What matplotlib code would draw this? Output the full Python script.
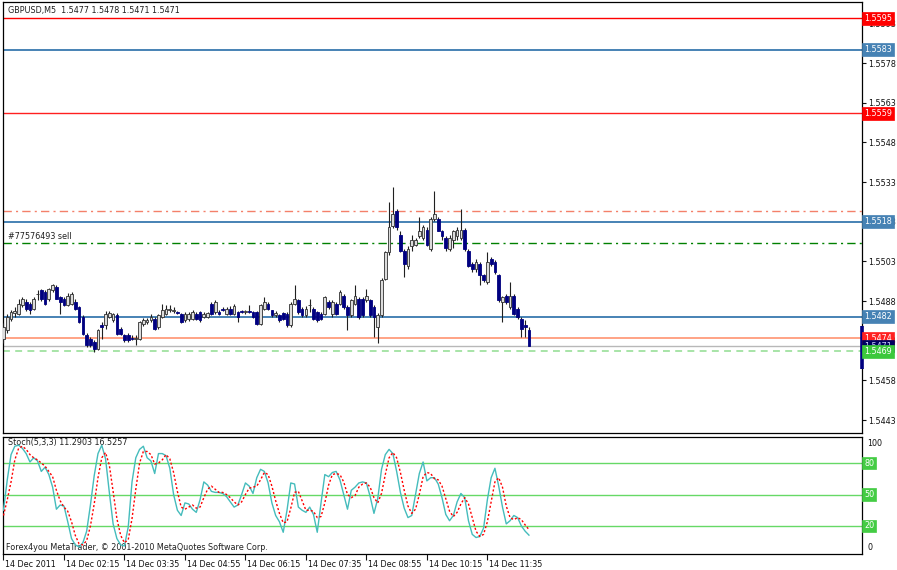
import matplotlib
matplotlib.use("Agg")
import matplotlib.pyplot as plt
import matplotlib.transforms as mtransforms
import numpy as np

# ---------------- data ----------------
opens = [1.54738,1.54769,1.54814,1.54836,1.54832,1.54866,1.54876,1.54870,1.54851,1.54906,
         1.54920,1.54914,1.54889,1.54920,1.54933,1.54895,1.54889,1.54866,1.54870,1.54876,
         1.54857,1.54820,1.54751,1.54738,1.54724,1.54700,1.54788,1.54788,1.54820,1.54807,
         1.54826,1.54776,1.54751,1.54751,1.54741,1.54738,1.54738,1.54794,1.54801,1.54807,
         1.54814,1.54782,1.54820,1.54832,1.54846,1.54841,1.54838,1.54832,1.54807,1.54814,
         1.54814,1.54832,1.54838,1.54820,1.54820,1.54870,1.54838,1.54838,1.54848,1.54832,
         1.54851,1.54832,1.54838,1.54841,1.54838,1.54841,1.54838,1.54838,1.54794,1.54851,
         1.54870,1.54845,1.54828,1.54826,1.54835,1.54832,1.54788,1.54870,1.54883,1.54851,
         1.54826,1.54864,1.54851,1.54838,1.54832,1.54832,1.54876,1.54832,1.54870,1.54870,
         1.54901,1.54857,1.54826,1.54870,1.54889,1.54889,1.54883,1.54883,1.54857,1.54782,
         1.54826,1.54964,1.55065,1.55164,1.55222,1.55131,1.55071,1.55014,1.55087,1.55093,
         1.55125,1.55118,1.55150,1.55077,1.55191,1.55191,1.55146,1.55118,1.55077,1.55112,
         1.55125,1.55118,1.55150,1.55071,1.55021,1.55002,1.55021,1.54977,1.54952,1.55040,
         1.55028,1.54977,1.54876,1.54901,1.54857,1.54901,1.54851,1.54814,1.54788,1.5477]
closes = [1.54782,1.54820,1.54838,1.54841,1.54870,1.54886,1.54851,1.54845,1.54889,1.54908,
          1.54889,1.54870,1.54927,1.54939,1.54889,1.54876,1.54866,1.54901,1.54908,1.54851,
          1.54801,1.54757,1.54713,1.54713,1.54700,1.54769,1.54781,1.54832,1.54834,1.54832,
          1.54757,1.54757,1.54732,1.54732,1.54738,1.54741,1.54801,1.54807,1.54807,1.54820,
          1.54776,1.54826,1.54845,1.54851,1.54851,1.54845,1.54836,1.54801,1.54832,1.54832,
          1.54838,1.54814,1.54807,1.54832,1.54835,1.54832,1.54876,1.54832,1.54846,1.54851,
          1.54832,1.54860,1.54820,1.54838,1.54841,1.54838,1.54820,1.54794,1.54864,1.54876,
          1.54851,1.54826,1.54834,1.54807,1.54814,1.54788,1.54870,1.54889,1.54838,1.54826,
          1.54851,1.54866,1.54814,1.54807,1.54814,1.54895,1.54857,1.54876,1.54832,1.54914,
          1.54857,1.54826,1.54883,1.54901,1.54820,1.54826,1.54901,1.54826,1.54820,1.54826,
          1.54958,1.55065,1.55159,1.55209,1.55159,1.55071,1.55021,1.55077,1.55112,1.55112,
          1.55144,1.55159,1.55093,1.55191,1.55209,1.55146,1.55125,1.55081,1.55118,1.55144,
          1.55150,1.55150,1.55077,1.55014,1.55002,1.55028,1.54977,1.54958,1.55028,1.55021,
          1.54990,1.54883,1.54895,1.54876,1.54901,1.54832,1.54820,1.54776,1.54782,1.5471]
highs = [1.54796,1.54831,1.54846,1.54856,1.54889,1.54896,1.54886,1.54876,1.54896,1.54920,
         1.54926,1.54921,1.54931,1.54943,1.54939,1.54901,1.54896,1.54911,1.54916,1.54886,
         1.54861,1.54826,1.54761,1.54744,1.54731,1.54776,1.54801,1.54841,1.54841,1.54836,
         1.54834,1.54781,1.54756,1.54761,1.54751,1.54751,1.54806,1.54816,1.54816,1.54831,
         1.54820,1.54832,1.54870,1.54866,1.54864,1.54856,1.54844,1.54836,1.54838,1.54838,
         1.54846,1.54838,1.54841,1.54838,1.54838,1.54876,1.54883,1.54848,1.54856,1.54857,
         1.54860,1.54870,1.54842,1.54846,1.54848,1.54864,1.54842,1.54842,1.54870,1.54895,
         1.54876,1.54848,1.54841,1.54832,1.54838,1.54838,1.54876,1.54939,1.54889,1.54856,
         1.54860,1.54889,1.54857,1.54842,1.54838,1.54901,1.54883,1.54883,1.54876,1.54920,
         1.54908,1.54864,1.54889,1.54939,1.54896,1.54896,1.54926,1.54889,1.54864,1.54836,
         1.54966,1.55071,1.55253,1.55313,1.55228,1.55144,1.55077,1.55087,1.55131,1.55118,
         1.55197,1.55166,1.55159,1.55197,1.55298,1.55197,1.55150,1.55125,1.55131,1.55150,
         1.55159,1.55228,1.55156,1.55077,1.55028,1.55040,1.55028,1.54983,1.55065,1.55046,
         1.55034,1.54983,1.54901,1.54908,1.54952,1.54908,1.54857,1.54820,1.54807,1.5478]
lows = [1.54721,1.54761,1.54806,1.54821,1.54826,1.54856,1.54841,1.54831,1.54846,1.54883,
        1.54881,1.54866,1.54881,1.54916,1.54886,1.54832,1.54861,1.54861,1.54866,1.54846,
        1.54796,1.54751,1.54708,1.54706,1.54688,1.54696,1.54736,1.54776,1.54816,1.54801,
        1.54751,1.54751,1.54726,1.54726,1.54732,1.54713,1.54732,1.54786,1.54794,1.54801,
        1.54769,1.54776,1.54816,1.54826,1.54838,1.54836,1.54832,1.54796,1.54801,1.54806,
        1.54807,1.54807,1.54801,1.54816,1.54816,1.54826,1.54832,1.54829,1.54841,1.54829,
        1.54829,1.54829,1.54801,1.54835,1.54832,1.54835,1.54816,1.54788,1.54788,1.54846,
        1.54846,1.54820,1.54820,1.54801,1.54807,1.54782,1.54782,1.54864,1.54832,1.54820,
        1.54820,1.54838,1.54807,1.54801,1.54807,1.54826,1.54851,1.54820,1.54826,1.54864,
        1.54851,1.54769,1.54820,1.54864,1.54814,1.54820,1.54876,1.54820,1.54744,1.54723,
        1.54820,1.54958,1.55056,1.55156,1.55150,1.55065,1.54970,1.55002,1.55071,1.55087,
        1.55118,1.55112,1.55087,1.55071,1.55184,1.55144,1.55112,1.55071,1.55071,1.55081,
        1.55112,1.55112,1.55071,1.55008,1.54990,1.54990,1.54939,1.54952,1.54946,1.55014,
        1.54983,1.54876,1.54801,1.54870,1.54851,1.54826,1.54814,1.54744,1.54744,1.5471]

stoch_k = [35,64,88,96,97,94,89,81,85,82,72,76,69,57,36,40,39,24,8,2,
           0,4,15,40,68,89,97,84,52,22,8,2,1,19,62,85,93,96,85,82,
           70,89,89,87,75,50,35,30,42,41,36,33,45,62,59,53,52,52,51,48,
           43,38,40,50,61,58,51,66,74,72,61,42,30,24,14,35,61,60,38,35,
           33,38,31,14,42,69,67,71,72,64,50,36,54,57,61,62,61,48,32,46,
           74,88,93,89,72,52,37,28,30,50,70,81,63,66,66,60,47,31,25,30,
           43,51,47,25,12,9,10,18,45,66,75,58,38,22,25,30,28,20,15,11.2903]
stoch_d = [30,45,62,83,94,96,93,88,85,83,80,77,72,67,54,44,38,34,24,11,
           3,2,6,20,41,66,85,90,78,53,27,11,4,7,27,55,80,91,91,88,
           79,80,83,88,84,71,53,38,36,38,40,37,38,47,55,58,55,52,52,50,
           47,43,40,43,50,56,57,58,64,71,69,58,44,32,23,24,37,52,53,44,
           35,35,34,28,29,42,59,69,70,69,62,50,47,49,57,60,61,57,47,42,
           51,69,85,90,85,71,54,39,32,36,50,67,71,70,65,64,58,46,34,29,
           33,41,47,41,28,15,10,12,24,43,62,66,57,39,28,26,28,26,21,16.5257]

time_labels = ["14 Dec 2011", "14 Dec 02:15", "14 Dec 03:35", "14 Dec 04:55",
               "14 Dec 06:15", "14 Dec 07:35", "14 Dec 08:55", "14 Dec 10:15",
               "14 Dec 11:35"]
label_every = 16

price_ticks = [1.5593, 1.5578, 1.5563, 1.5548, 1.5533, 1.5518, 1.5503, 1.5488,
               1.5473, 1.5458, 1.5443]
stoch_levels = [80, 50, 20]

level_upper_red = 1.5595
level_upper_blue = 1.5583
level_mid_red = 1.5559
level_dashdot_red = 1.5522
level_mid_blue = 1.5518
level_sell = 1.5510
level_low_blue = 1.5482
level_low_red = 1.5474
level_bid = 1.5471
level_green = 1.5469
range_marker = (1.54786, 1.54623)

title_text = "GBPUSD,M5  1.5477 1.5478 1.5471 1.5471"
sell_text = "#77576493 sell"
stoch_text = "Stoch(5,3,3) 11.2903 16.5257"
copyright_text = "Forex4you MetaTrader, \u00a9 2001-2010 MetaQuotes Software Corp."

# ---------------- layout ----------------
W, H = 897, 570
FS = 5.8
plt.rcParams['font.family'] = ['DejaVu Sans']

fig = plt.figure(figsize=(W / 100, H / 100), dpi=100)
fig.patch.set_facecolor('white')


def frac(x0, y0, x1, y1):
    return [x0 / W, 1 - y1 / H, (x1 - x0) / W, (y1 - y0) / H]


ax = fig.add_axes(frac(2.5, 2, 862, 433))
ax2 = fig.add_axes(frac(2.5, 437, 862, 554), sharex=ax)

n = len(opens)
idx = np.arange(n)
o = np.array(opens); c = np.array(closes); hi = np.array(highs); lo = np.array(lows)

# wicks
ax.vlines(idx, lo, hi, color='#202020', lw=0.8, zorder=3)
# bodies
bull = c >= o
bottoms = np.minimum(o, c)
heights = np.maximum(np.abs(c - o), 0.000025)
ax.bar(idx[bull], heights[bull], bottom=bottoms[bull], width=0.72,
       color='#dcdcdc', edgecolor='#303030', linewidth=0.6, zorder=4)
ax.bar(idx[~bull], heights[~bull], bottom=bottoms[~bull], width=0.72,
       color='#000080', edgecolor='#000080', linewidth=0.6, zorder=4)

# horizontal levels
ax.axhline(level_upper_red, color='#ff0000', lw=1.0, zorder=2)
ax.axhline(level_upper_blue, color='#4682b4', lw=1.4, zorder=2)
ax.axhline(level_mid_red, color='#ff2020', lw=1.0, zorder=2)
ax.axhline(level_dashdot_red, color='#f4806a', lw=1.0, zorder=2,
           linestyle=(0, (6, 3, 1.5, 3)))
ax.axhline(level_mid_blue, color='#4682b4', lw=1.4, zorder=2)
ax.axhline(level_sell, color='#008000', lw=1.0, zorder=2,
           linestyle=(0, (6, 3, 1.5, 3)))
ax.axhline(level_low_blue, color='#4682b4', lw=1.4, zorder=2)
ax.axhline(level_low_red, color='#ff8a65', lw=1.1, zorder=2)
ax.axhline(level_bid, color='#b8b8b8', lw=1.0, zorder=2)
ax.axhline(level_green, color='#8fdc8f', lw=1.1, zorder=2,
           linestyle=(0, (4.5, 3.5)))

ax.set_xlim(-0.26, 227.1)
ax.set_ylim(1.54381, 1.56011)

ax.yaxis.tick_right()
ax.set_yticks(price_ticks)
ax.set_yticklabels([f"{v:.4f}" for v in price_ticks])
ax.tick_params(axis='y', labelsize=FS, length=3, width=0.8, pad=1.5, colors='#111111')
ax.tick_params(axis='x', bottom=False, labelbottom=False)
for s in ax.spines.values():
    s.set_color('#000000'); s.set_linewidth(0.9)

# right-hand price boxes
ytrans = mtransforms.blended_transform_factory(ax.transAxes, ax.transData)


def price_box(a, trans, y, text, fc, tc='white'):
    a.annotate(text, xy=(1.0, y), xycoords=trans, xytext=(1.6, 0),
               textcoords='offset points', ha='left', va='center',
               fontsize=FS, color=tc, zorder=10, annotation_clip=False,
               bbox=dict(boxstyle='square,pad=0.24', fc=fc, ec=fc, lw=0.5))


price_box(ax, ytrans, level_upper_red, f"{level_upper_red:.4f}", '#ff0000')
price_box(ax, ytrans, level_upper_blue, f"{level_upper_blue:.4f}", '#4682b4')
price_box(ax, ytrans, level_mid_red, f"{level_mid_red:.4f}", '#ff0000')
price_box(ax, ytrans, level_mid_blue, f"{level_mid_blue:.4f}", '#4682b4')
price_box(ax, ytrans, level_low_blue, f"{level_low_blue:.4f}", '#4682b4')
price_box(ax, ytrans, level_low_red, f"{level_low_red:.4f}", '#ff2020')
price_box(ax, ytrans, level_bid, f"{level_bid:.4f}", '#000060', '#d0d0ff')
price_box(ax, ytrans, level_green, f"{level_green:.4f}", '#3cc83c')

ax.plot([1.0, 1.0], list(range_marker), transform=ytrans, color='#000080',
        lw=2.6, clip_on=False, zorder=9, solid_capstyle='butt')

ax.text(5 / 859.5, 1 - 8 / 431, title_text, transform=ax.transAxes,
        fontsize=FS, ha='left', va='center', color='#202020')
ax.annotate(sell_text, xy=(0, level_sell), xycoords=ytrans, xytext=(4, 1.5),
            textcoords='offset points', fontsize=FS, ha='left', va='bottom',
            color='#202020')

# ---------------- stochastic ----------------
for lv in stoch_levels:
    ax2.axhline(lv, color='#66d966', lw=1.0, zorder=2)
ax2.plot(idx, stoch_k, color='#45bcbc', lw=1.0, zorder=4)
ax2.plot(idx, stoch_d, color='#ff0000', lw=1.0, zorder=5, linestyle=(0, (1.5, 1.5)))
ax2.set_ylim(-6.7, 104.8)
ax2.yaxis.tick_right()
ax2.set_yticks([0, 100])
ax2.set_yticklabels(["0", "100"])
ax2.tick_params(axis='y', labelsize=FS, length=0, pad=4, colors='#111111')
ytrans2 = mtransforms.blended_transform_factory(ax2.transAxes, ax2.transData)
for lv in stoch_levels:
    price_box(ax2, ytrans2, lv, str(lv), '#44cc44')

ax2.set_xticks(idx[::label_every][:len(time_labels)])
ax2.set_xticklabels(time_labels, ha='left')
ax2.tick_params(axis='x', labelsize=FS, length=4, width=0.8, pad=0.5,
                direction='out', colors='#111111')
for lab in ax2.get_xticklabels():
    lab.set_transform(lab.get_transform() + mtransforms.ScaledTranslation(2 / 100, 0, fig.dpi_scale_trans))
for s in ax2.spines.values():
    s.set_color('#000000'); s.set_linewidth(0.9)

ax2.text(5 / 859.5, 1 - 6 / 117, stoch_text, transform=ax2.transAxes,
         fontsize=FS, ha='left', va='center', color='#202020')
ax2.text(4 / 859.5, 6 / 117, copyright_text, transform=ax2.transAxes,
         fontsize=FS, ha='left', va='center', color='#202020')

fig.savefig("out.png", dpi=100, facecolor='white')
